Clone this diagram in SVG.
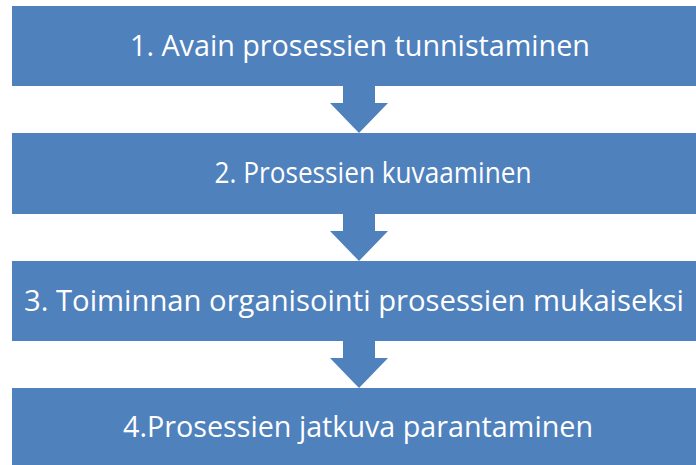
<svg xmlns="http://www.w3.org/2000/svg" width="696" height="465" viewBox="0 0 696 465">
<style>
.box{fill:#4F81BD}
.arr{fill:#4F81BD}
.t{fill:#FFFFFF;font-family:"Open Sans","Liberation Sans",Arial,sans-serif;font-size:30px;text-anchor:middle}
</style>
<defs>
<path id="dn" d="M-16,0 H16 V17 H29 L0,47 L-29,17 H-16 Z"/>
</defs>
<rect width="696" height="465" fill="#FFFFFF"/>
<g id="connectors">
<use href="#dn" class="arr" x="359" y="86"/>
<use href="#dn" class="arr" x="359" y="214"/>
<use href="#dn" class="arr" x="359" y="341"/>
</g>
<g id="node1">
<rect class="box" x="12" y="6" width="684" height="80"/>
<text class="t" x="360" y="56" textLength="460" lengthAdjust="spacingAndGlyphs">1. Avain prosessien tunnistaminen</text>
</g>
<g id="node2">
<rect class="box" x="12" y="133" width="684" height="81"/>
<text class="t" x="373" y="183" textLength="317" lengthAdjust="spacingAndGlyphs">2. Prosessien kuvaaminen</text>
</g>
<g id="node3">
<rect class="box" x="12" y="261" width="684" height="80"/>
<text class="t" x="354" y="311" textLength="660" lengthAdjust="spacingAndGlyphs">3. Toiminnan organisointi prosessien mukaiseksi</text>
</g>
<g id="node4">
<rect class="box" x="12" y="388" width="684" height="77"/>
<text class="t" x="358" y="437" textLength="470" lengthAdjust="spacingAndGlyphs">4.Prosessien jatkuva parantaminen</text>
</g>
</svg>
